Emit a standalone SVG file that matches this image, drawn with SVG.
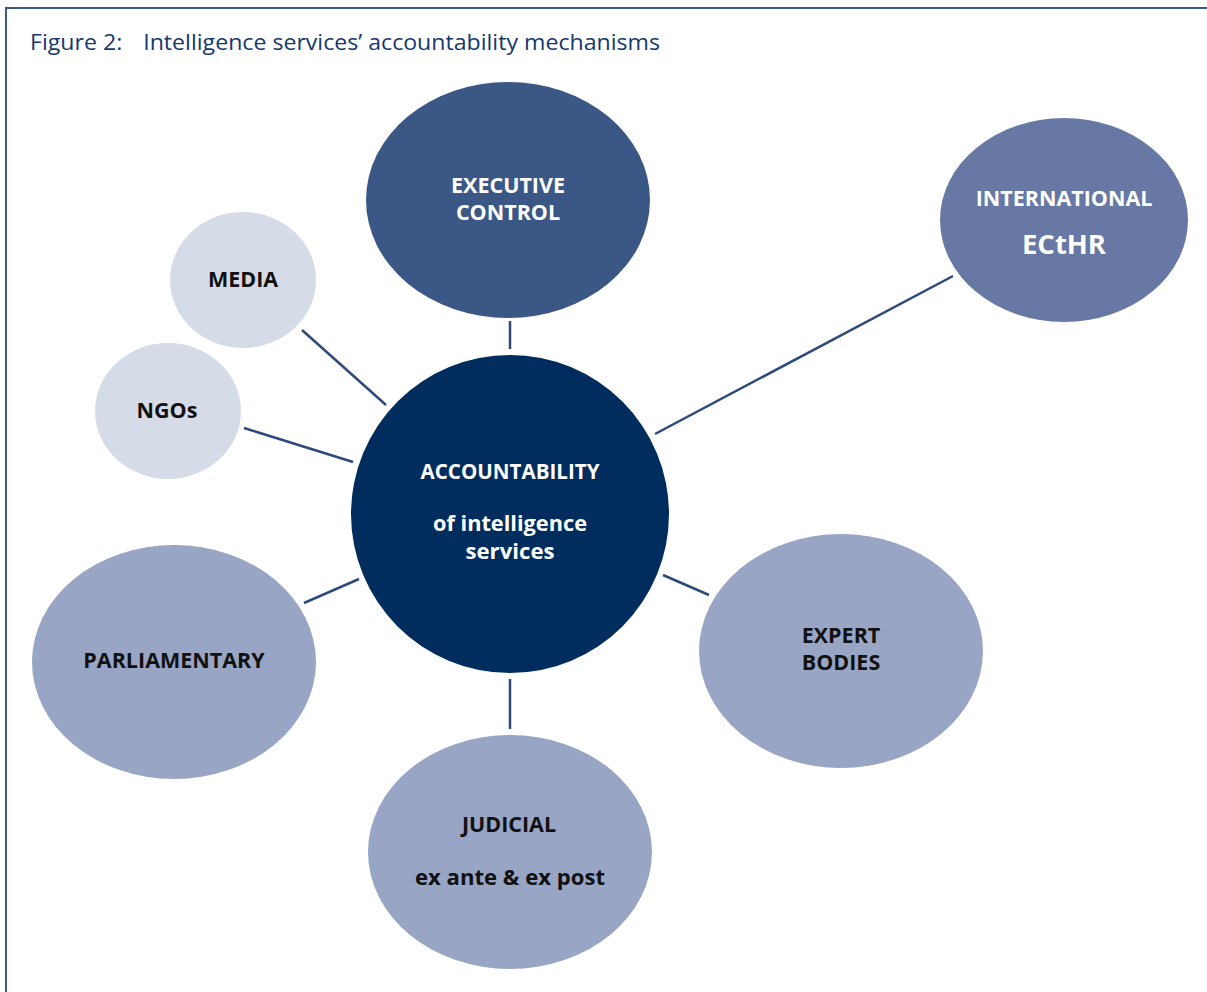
<svg xmlns="http://www.w3.org/2000/svg" width="1207" height="992" viewBox="0 0 1207 992">
<style>
.t{font-family:"Open Sans","Noto Sans","Liberation Sans",sans-serif;font-weight:bold;text-anchor:middle;font-size:21.5px}
.w{fill:#ffffff}
.k{fill:#111111}
.c{stroke:#2c4a7a;stroke-width:2.5;fill:none}
</style>
<rect width="1207" height="992" fill="#ffffff"/>
<path d="M6,992 V8 H1207" fill="none" stroke="#3a5a8a" stroke-width="2"/>
<text x="30" y="50" font-family="'Open Sans','Noto Sans',sans-serif" font-size="22" fill="#15386c" textLength="630" lengthAdjust="spacingAndGlyphs">Figure 2:<tspan dx="20">Intelligence services’ accountability mechanisms</tspan></text>
<g id="connectors">
<line class="c" x1="510" y1="321" x2="510" y2="349"/>
<line class="c" x1="655" y1="434" x2="953" y2="276"/>
<line class="c" x1="302" y1="330" x2="386" y2="405"/>
<line class="c" x1="244" y1="428" x2="353" y2="462"/>
<line class="c" x1="304" y1="603" x2="359" y2="579"/>
<line class="c" x1="663" y1="575" x2="709" y2="595"/>
<line class="c" x1="510" y1="679" x2="510" y2="729"/>
</g>
<g id="center">
<circle cx="510" cy="514" r="159" fill="#002d5e"/>
<text class="t w" x="510" y="479" textLength="179" lengthAdjust="spacingAndGlyphs">ACCOUNTABILITY</text>
<text class="t w" x="510" y="531" style="font-size:20.5px" textLength="154" lengthAdjust="spacingAndGlyphs">of intelligence</text>
<text class="t w" x="510" y="559" style="font-size:20.5px" textLength="89" lengthAdjust="spacingAndGlyphs">services</text>
</g>
<g id="executive">
<ellipse cx="508" cy="200" rx="142" ry="118" fill="#3b5785"/>
<text class="t w" x="508" y="193">EXECUTIVE</text>
<text class="t w" x="508" y="220">CONTROL</text>
</g>
<g id="international">
<ellipse cx="1064" cy="220" rx="124" ry="102" fill="#6678a3"/>
<text class="t w" x="1064" y="206">INTERNATIONAL</text>
<text class="t w" x="1064" y="254" style="font-size:27.5px">ECtHR</text>
</g>
<g id="media">
<ellipse cx="243" cy="280" rx="73" ry="68" fill="#d6dbe8"/>
<text class="t k" x="243" y="287">MEDIA</text>
</g>
<g id="ngos">
<ellipse cx="168" cy="411" rx="73" ry="68" fill="#d6dbe8"/>
<text class="t k" x="167" y="418">NGOs</text>
</g>
<g id="parliamentary">
<ellipse cx="174" cy="662" rx="142" ry="117" fill="#98a5c4"/>
<text class="t k" x="174" y="668">PARLIAMENTARY</text>
</g>
<g id="expert">
<ellipse cx="841" cy="651" rx="142" ry="117" fill="#98a5c4"/>
<text class="t k" x="841" y="643">EXPERT</text>
<text class="t k" x="841" y="670">BODIES</text>
</g>
<g id="judicial">
<ellipse cx="510" cy="852" rx="142" ry="117" fill="#98a5c4"/>
<text class="t k" x="509" y="832">JUDICIAL</text>
<text class="t k" x="510" y="885" style="font-size:22px" textLength="190" lengthAdjust="spacingAndGlyphs">ex ante &amp; ex post</text>
</g>
</svg>
